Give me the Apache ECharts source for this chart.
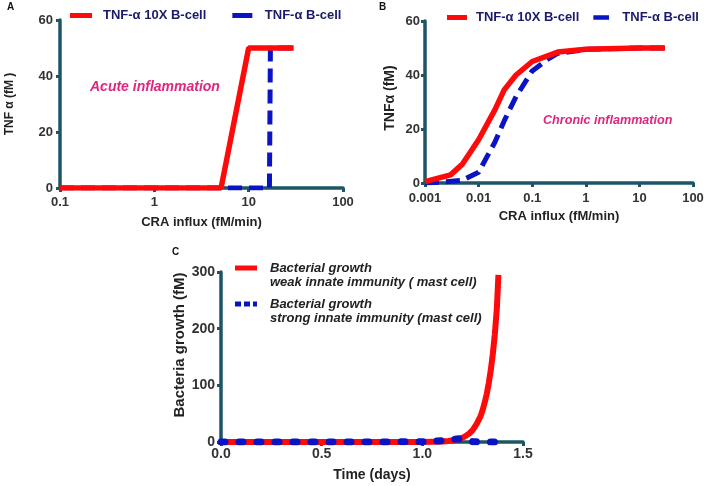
<!DOCTYPE html>
<html><head><meta charset="utf-8">
<script src="https://cdn.jsdelivr.net/npm/echarts@6/dist/echarts.min.js"></script>
<style>html,body{margin:0;padding:0;background:#fff}#c{width:708px;height:486px}</style>
</head><body><div id="c"></div>
<script>
// ---- data ----
const nameHigh = 'TNF-α 10X B-cell';
const nameLow = 'TNF-α B-cell';
const nameWeak = 'Bacterial growth\nweak innate immunity ( mast cell)';
const nameStrong = 'Bacterial growth\nstrong innate immunity (mast cell)';

// Panel A (acute): [CRA influx, TNF-α]
const acuteHigh = [[0.1,0],[5.1,0],[10,50],[30,50]];
const acuteLow  = [[0.1,0],[16.6,0],[17,50],[30,50]];
// Panel B (chronic)
const chronicHigh = [[0.001,0.5],[0.003,3],[0.005,7],[0.01,16],[0.02,27],[0.03,34.5],[0.05,40],[0.1,45],[0.3,48.5],[1,49.5],[10,50],[30,50]];
const chronicLow  = [[0.001,0],[0.002,0.3],[0.005,1],[0.01,4],[0.02,15],[0.03,23],[0.05,32],[0.1,41.5],[0.2,46],[0.3,48],[1,49.5],[10,50],[30,50]];
// Panel C: [time (days), bacteria (fM)]
const weakGrowth   = [[0,0],[0.5,0],[1.0,0.15],[1.05,0.4],[1.1,1],[1.13,1.8],[1.16,3.4],[1.19,6],[1.21,9.5],[1.233,15],[1.25,21],[1.27,32],[1.29,46],[1.3,57],[1.31,70],[1.32,85],[1.33,104],[1.34,127],[1.35,155],[1.36,190],[1.37,235],[1.378,295]];
const strongGrowth = [[0,0],[0.5,0],[1.0,0.3],[1.05,1],[1.1,2.5],[1.15,4.5],[1.19,6],[1.22,3.5],[1.25,0.5],[1.3,0],[1.37,0]];

const xTicksA = [0.1,1,10,100];
const xTicksB = [0.001,0.01,0.1,1,10,100];
const yTicksAB = [0,20,40,60];
const xTicksC = [0,0.5,1.0,1.5];
const yTicksC = [0,100,200,300];

// ---- style ----
const RED = '#ff0a0a', BLUE = '#0a14c4', AXIS = '#1d5566', NAVY = '#1b1b6b', PINK = '#e0267f';
const FONT = '"Liberation Sans", Arial, sans-serif';
function lbl(size, margin){ return {color:'#333', fontWeight:'bold', fontSize:size, fontFamily:FONT, margin:margin}; }
function nameStyle(size, pad){ return {color:'#222', fontWeight:'bold', fontSize:size, fontFamily:FONT, padding:pad||0}; }
const axLine = {show:true, lineStyle:{color:AXIS, width:3.5}};
const axTick = {show:true, length:4, lineStyle:{color:AXIS, width:3}};

function logAxis(idx, ticks, margin, gap){
  return {type:'log', logBase:10, gridIndex:idx, min:ticks[0], max:ticks[ticks.length-1],
    axisLine:axLine, axisTick:axTick, splitLine:{show:false}, minorTick:{show:false},
    axisLabel:Object.assign(lbl(13, margin), {formatter:v=>String(+(+v).toPrecision(3))}),
    name:'CRA influx (fM/min)', nameLocation:'middle', nameGap:gap, nameTextStyle:nameStyle(13)};
}
function valAxis(idx, ticks, name, gap, size, nsize, margin, pad, fmt){
  const ax = {type:'value', gridIndex:idx, min:ticks[0], max:ticks[ticks.length-1], interval:ticks[1]-ticks[0],
    axisLine:axLine, axisTick:axTick, splitLine:{show:false},
    axisLabel:lbl(size, margin),
    name:name, nameLocation:'middle', nameGap:gap, nameTextStyle:nameStyle(nsize, pad)};
  if (fmt) ax.axisLabel.formatter = fmt;
  return ax;
}

const chart = echarts.init(document.getElementById('c'), null, {renderer:'canvas'});
chart.setOption({
  animation:false,
  backgroundColor:'#fff',
  grid:[
    {left:60, top:20, width:283, height:168},
    {left:425, top:21, width:268, height:162},
    {left:221, top:272, width:302, height:170}
  ],
  xAxis:[
    logAxis(0, xTicksA, 8, 28),
    logAxis(1, xTicksB, 9, 27),
    valAxis(2, xTicksC, 'Time (days)', 26, 14, 14, 5, 0, v=>v.toFixed(1))
  ],
  yAxis:[
    valAxis(0, yTicksAB, 'TNF α (fM )', 44, 13, 12, 7, [0,0,0,0]),
    valAxis(1, yTicksAB, 'TNFα (fM)', 28, 13, 14, 5, [0,0,0,8]),
    valAxis(2, yTicksC, 'Bacteria growth (fM)', 34, 14, 15, 6, [0,0,0,24])
  ],
  legend:[
    {left:65, top:4, itemWidth:28, itemHeight:5, itemGap:26,
     data:[
       {name:nameHigh, icon:'path://M0,0H22V5H0Z M27.9,0H28V0.1H27.9Z'},
       {name:nameLow, icon:'path://M0,0H20V5H0Z M26.9,0H27V0.1H26.9Z'}
     ],
     textStyle:{color:NAVY, fontWeight:'bold', fontSize:13, fontFamily:FONT}},
    {left:442, top:6, itemWidth:24, itemHeight:5, itemGap:14,
     data:[
       {name:nameHigh, icon:'path://M0,0H20V5H0Z M23.9,0H24V0.1H23.9Z'},
       {name:nameLow, icon:'path://M0,0H17V5H0Z M25.9,0H26V0.1H25.9Z'}
     ],
     textStyle:{color:NAVY, fontWeight:'bold', fontSize:13, fontFamily:FONT}},
    {left:230, top:256, orient:'vertical', itemWidth:30, itemHeight:19, itemGap:8,
     data:[
       {name:nameWeak, icon:'path://M0,0H22V5H0Z M29.9,18.9H30V19H29.9Z'},
       {name:nameStrong, icon:'path://M0,0H6V5H0Z M9,0H15V5H9Z M18,0H22V5H18Z M29.9,18.9H30V19H29.9Z'}
     ],
     textStyle:{color:'#222', fontWeight:'bold', fontStyle:'italic', fontSize:13, fontFamily:FONT, lineHeight:14}}
  ],
  series:[
    {name:nameLow, type:'line', xAxisIndex:0, yAxisIndex:0, data:acuteLow, symbol:'none', color:BLUE,
     lineStyle:{color:BLUE, width:5, type:[14,7]}},
    {name:nameHigh, type:'line', xAxisIndex:0, yAxisIndex:0, data:acuteHigh, symbol:'none', color:RED,
     lineStyle:{color:RED, width:5.5}},
    {name:nameLow, type:'line', xAxisIndex:1, yAxisIndex:1, data:chronicLow, symbol:'none', color:BLUE,
     lineStyle:{color:BLUE, width:5, type:[14,7]}},
    {name:nameHigh, type:'line', xAxisIndex:1, yAxisIndex:1, data:chronicHigh, symbol:'none', color:RED,
     lineStyle:{color:RED, width:5.5}},
    {name:nameWeak, type:'line', xAxisIndex:2, yAxisIndex:2, data:weakGrowth, symbol:'none', color:RED,
     lineStyle:{color:RED, width:6, join:'round'}},
    {name:nameStrong, type:'line', xAxisIndex:2, yAxisIndex:2, data:strongGrowth, symbol:'none', color:BLUE,
     lineStyle:{color:BLUE, width:7, type:[4,14], cap:'round'}}
  ],
  graphic:[
    {type:'text', left:7, top:2, style:{text:'A', font:'bold 10px '+FONT, fill:'#111'}},
    {type:'text', left:379, top:2, style:{text:'B', font:'bold 10px '+FONT, fill:'#111'}},
    {type:'text', left:172, top:247, style:{text:'C', font:'bold 10px '+FONT, fill:'#111'}},
    {type:'text', left:90, top:80, style:{text:'Acute inflammation', font:'italic bold 14px '+FONT, fill:PINK}},
    {type:'text', left:543, top:114, style:{text:'Chronic inflammation', font:'italic bold 12.6px '+FONT, fill:PINK}}
  ]
});
</script>
</body></html>
